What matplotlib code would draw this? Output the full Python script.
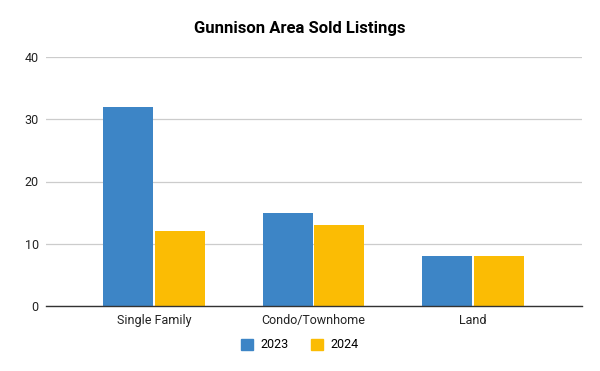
import numpy as np
import matplotlib.pyplot as plt
from matplotlib.patches import Patch

plt.rcParams['font.family'] = ['Roboto', 'DejaVu Sans']

# Dados do gráfico
categorias = ['Single Family', 'Condo/Townhome', 'Land']
vendas_2023 = [32, 15, 8]
vendas_2024 = [12, 13, 8]
anos = ['2023', '2024']
cor_2023 = '#3d85c6'
cor_2024 = '#fbbc04'

fig = plt.figure(figsize=(6, 3.71), dpi=100)
ax = fig.add_axes([45.7 / 600, 1 - 306 / 371, 536 / 600, 249 / 371])

x = np.arange(len(categorias))
w = 0.313
gap = 0.006
ax.bar(x - w / 2 - gap, vendas_2023, width=w, color=cor_2023, zorder=3)
ax.bar(x + w / 2 + gap, vendas_2024, width=w, color=cor_2024, zorder=3)

ax.set_xlim(-0.679, 2.681)
ax.set_ylim(0, 40)
ax.set_yticks([0, 10, 20, 30, 40])
ax.set_xticks(x)
ax.set_xticklabels(categorias, fontsize=9, color='#222222')
ax.tick_params(axis='y', labelsize=9, colors='#222222', length=0, pad=5)
ax.tick_params(axis='x', length=0, pad=6)
ax.grid(axis='y', color='#cccccc', linewidth=0.9, zorder=0)
for s in ['top', 'right', 'left']:
    ax.spines[s].set_visible(False)
ax.spines['bottom'].set_color('#333333')
ax.spines['bottom'].set_linewidth(1.0)
ax.spines['bottom'].set_zorder(4)

fig.text(0.5, 1 - 28 / 371, 'Gunnison Area Sold Listings', ha='center', va='center',
         fontsize=12, fontweight='bold', color='#000000')

handles = [Patch(color=cor_2023), Patch(color=cor_2024)]
fig.legend(handles, anos, loc='center', bbox_to_anchor=(0.5, 1 - 345 / 371), ncol=2,
           frameon=False, fontsize=9, handlelength=0.95, handleheight=0.95,
           handletextpad=0.6, columnspacing=1.8)

fig.savefig('out.png', dpi=100)
